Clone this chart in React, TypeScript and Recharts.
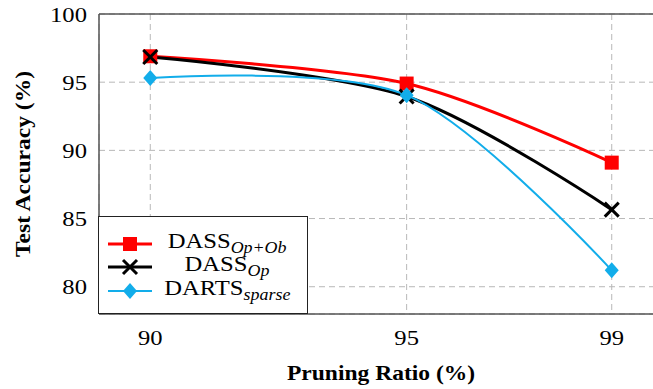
import React from 'react';
import { LineChart, Line, XAxis, YAxis, CartesianGrid, ReferenceLine, Label } from 'recharts';

// pruning ratios on the x axis
const ratios = [90, 95, 99];
// test accuracy per method
const dassOpOb = [96.9, 94.9, 89.1];
const dassOp = [96.85, 93.95, 85.65];
const dartsSparse = [95.3, 94.05, 81.2];

const xTicks = [90, 95, 99];
const yTicks = [80, 85, 90, 95, 100];

const RED = '#ff0000';
const BLACK = '#000000';
const CYAN = '#12adea';
const SERIF = 'Liberation Serif';
const STRETCH = 1.12;

const data = ratios.map((r, i) => ({
  ratio: r,
  opob: dassOpOb[i],
  op: dassOp[i],
  darts: dartsSparse[i],
}));

// smooth curve like tikz "smooth" (tension 0.55)
function smoothCurve(context: any) {
  let pts: [number, number][] = [];
  const k = 0.55 * 0.2775;
  return {
    areaStart() {},
    areaEnd() {},
    lineStart() {
      pts = [];
    },
    point(x: number, y: number) {
      pts.push([+x, +y]);
    },
    lineEnd() {
      const n = pts.length;
      if (!n) return;
      context.moveTo(pts[0][0], pts[0][1]);
      const tan = (i: number): [number, number] => {
        if (i === 0 || i === n - 1) return [0, 0];
        return [(pts[i + 1][0] - pts[i - 1][0]) * k, (pts[i + 1][1] - pts[i - 1][1]) * k];
      };
      for (let i = 0; i < n - 1; i++) {
        const t0 = tan(i);
        const t1 = tan(i + 1);
        context.bezierCurveTo(
          pts[i][0] + t0[0],
          pts[i][1] + t0[1],
          pts[i + 1][0] - t1[0],
          pts[i + 1][1] - t1[1],
          pts[i + 1][0],
          pts[i + 1][1]
        );
      }
    },
  };
}

const SquareDot = (props: any) => {
  const { cx, cy } = props;
  return <rect x={cx - 7} y={cy - 7} width={14} height={14} fill={RED} />;
};

const CrossDot = (props: any) => {
  const { cx, cy } = props;
  const s = 7;
  return (
    <g stroke={BLACK} strokeWidth={3}>
      <line x1={cx - s} y1={cy - s} x2={cx + s} y2={cy + s} />
      <line x1={cx - s} y1={cy + s} x2={cx + s} y2={cy - s} />
    </g>
  );
};

const DiamondDot = (props: any) => {
  const { cx, cy } = props;
  return <polygon points={`${cx},${cy - 8} ${cx + 7},${cy} ${cx},${cy + 8} ${cx - 7},${cy}`} fill={CYAN} />;
};

const XTick = (props: any) => {
  const { x, y, payload } = props;
  return (
    <text
      transform={`translate(${x},${y + 29}) scale(${STRETCH},1)`}
      textAnchor="middle"
      fontFamily={SERIF}
      fontSize={22}
      fill="#000"
    >
      {payload.value}
    </text>
  );
};

const YTick = (props: any) => {
  const { y, payload } = props;
  return (
    <text
      transform={`translate(87,${y + 7.5}) scale(${STRETCH},1)`}
      textAnchor="end"
      fontFamily={SERIF}
      fontSize={22}
      fill="#000"
    >
      {payload.value}
    </text>
  );
};

const legendItems = [
  { name: 'DASS', sub: 'Op+Ob', color: RED, width: 3, marker: 'square' },
  { name: 'DASS', sub: 'Op', color: BLACK, width: 3, marker: 'cross' },
  { name: 'DARTS', sub: 'sparse', color: CYAN, width: 2, marker: 'diamond' },
];

const LegendMarker = ({ kind, color }: { kind: string; color: string }) => {
  if (kind === 'square') return <rect x={16} y={3} width={14} height={14} fill={color} />;
  if (kind === 'cross')
    return (
      <g stroke={color} strokeWidth={3}>
        <line x1={16} y1={3} x2={30} y2={17} />
        <line x1={16} y1={17} x2={30} y2={3} />
      </g>
    );
  return <polygon points="23,2 30,10 23,18 16,10" fill={color} />;
};

const ChartLegend = () => (
  <div
    style={{
      position: 'absolute',
      left: 98,
      top: 216,
      width: 210,
      height: 98,
      boxSizing: 'border-box',
      border: '1.5px solid #222',
      background: '#fff',
      fontFamily: SERIF,
    }}
  >
    {legendItems.map((item, i) => (
      <div key={i} style={{ position: 'absolute', left: 8, top: [17, 40, 64][i], width: 200, height: 20 }}>
        <svg width={48} height={20} style={{ position: 'absolute', left: 0, top: 0 }}>
          <line x1={1} y1={10} x2={45} y2={10} stroke={item.color} strokeWidth={item.width} />
          <LegendMarker kind={item.marker} color={item.color} />
        </svg>
        <div
          style={{
            position: 'absolute',
            left: 52,
            width: 136,
            top: -6,
            textAlign: 'center',
            fontSize: 22,
            lineHeight: '26px',
            whiteSpace: 'nowrap',
          }}
        >
          <span style={{ display: 'inline-block', transform: `scaleX(${STRETCH})` }}>
            {item.name}
            <span style={{ fontStyle: 'italic', fontSize: 16, position: 'relative', top: 5 }}>{item.sub}</span>
          </span>
        </div>
      </div>
    ))}
  </div>
);

export default function App() {
  return (
    <div
      style={{
        position: 'absolute',
        left: 0,
        top: 0,
        width: 653,
        height: 389,
        overflow: 'hidden',
        background: '#fff',
        fontFamily: SERIF,
      }}
    >
      <LineChart
        width={672}
        height={389}
        data={data}
        margin={{ top: 14, right: 9, bottom: 0, left: 0 }}
        style={{ fontFamily: SERIF }}
      >
        <CartesianGrid stroke="#b8b8b8" strokeDasharray="6 4" strokeWidth={1} />
        <XAxis
          dataKey="ratio"
          type="number"
          domain={[89, 100]}
          ticks={xTicks}
          allowDataOverflow
          height={75}
          tickLine={false}
          tickSize={0}
          axisLine={{ stroke: '#555', strokeWidth: 1.5 }}
          tick={<XTick />}
        >
          <Label
            content={(props: any) => {
              const vb = props.viewBox;
              return (
                <text
                  transform={`translate(${vb.x + vb.width / 2},${vb.y + 66}) scale(1.07,1)`}
                  textAnchor="middle"
                  fontFamily={SERIF}
                  fontSize={22}
                  fontWeight="bold"
                  fill="#000"
                >
                  Pruning Ratio (%)
                </text>
              );
            }}
          />
        </XAxis>
        <YAxis
          type="number"
          domain={[78, 100]}
          ticks={yTicks}
          allowDataOverflow
          width={99}
          tickLine={false}
          tickSize={0}
          axisLine={{ stroke: '#555', strokeWidth: 1.5 }}
          tick={<YTick />}
        >
          <Label
            content={(props: any) => {
              const vb = props.viewBox;
              return (
                <text
                  transform={`translate(30,${vb.y + vb.height / 2}) rotate(-90) scale(1.07,1)`}
                  textAnchor="middle"
                  fontFamily={SERIF}
                  fontSize={22}
                  fontWeight="bold"
                  fill="#000"
                >
                  Test Accuracy (%)
                </text>
              );
            }}
          />
        </YAxis>
        <ReferenceLine y={100} stroke="#555" strokeWidth={1.5} />
        <ReferenceLine x={100} stroke="#555" strokeWidth={1.5} />
        <Line type={smoothCurve as any} dataKey="opob" stroke={RED} strokeWidth={3} dot={<SquareDot />} activeDot={false} isAnimationActive={false} />
        <Line type={smoothCurve as any} dataKey="op" stroke={BLACK} strokeWidth={3} dot={<CrossDot />} activeDot={false} isAnimationActive={false} />
        <Line type={smoothCurve as any} dataKey="darts" stroke={CYAN} strokeWidth={2} dot={<DiamondDot />} activeDot={false} isAnimationActive={false} />
      </LineChart>
      <ChartLegend />
    </div>
  );
}
